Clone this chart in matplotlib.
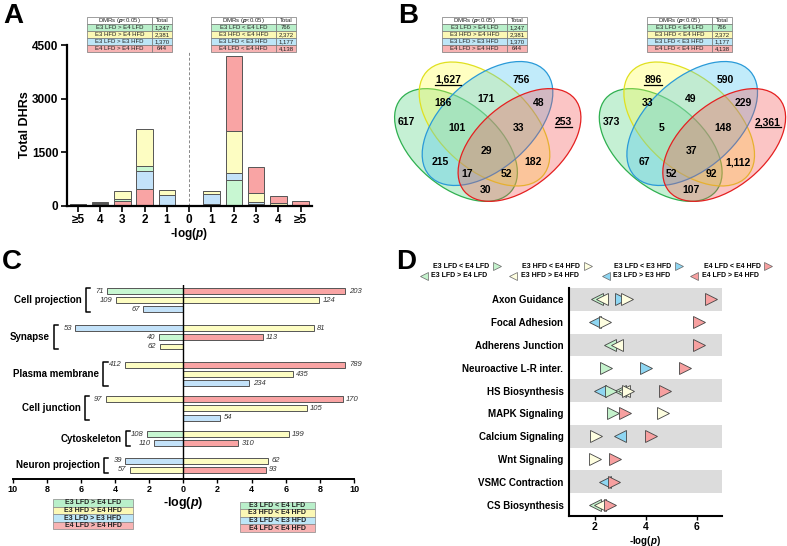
import numpy as np
import matplotlib
matplotlib.use("Agg")
import matplotlib.pyplot as plt
from matplotlib.patches import Ellipse, Rectangle

plt.rcParams['font.family'] = ['Liberation Sans', 'DejaVu Sans']
plt.rcParams['mathtext.fontset'] = 'custom'
plt.rcParams['mathtext.rm'] = 'Liberation Sans:bold'
plt.rcParams['mathtext.it'] = 'Liberation Sans:italic:bold'
plt.rcParams['mathtext.bf'] = 'Liberation Sans:bold'

W, H = 787, 546

GREEN = '#c8f7d2'
YELLOW = '#fdfdc2'
BLUE = '#c3e2f9'
RED = '#f9a4a4'
COLORS = {'g': GREEN, 'y': YELLOW, 'b': BLUE, 'r': RED}

# ---------------- data ----------------
# comparison names
comp_gt = ['E3 LFD > E4 LFD', 'E3 HFD > E4 HFD', 'E3 LFD > E3 HFD', 'E4 LFD > E4 HFD']
comp_lt = ['E3 LFD < E4 LFD', 'E3 HFD < E4 HFD', 'E3 LFD < E3 HFD', 'E4 LFD < E4 HFD']
total_gt = [1247, 2381, 1370, 644]
total_lt = [766, 2372, 1177, 4138]

# panel A: DHR counts per -log(p) bin (stacked)
a_left_bins = ['≥5', '4', '3', '2', '1']
a_left_red = [25, 55, 130, 470, 15]
a_left_blue = [0, 0, 0, 510, 280]
a_left_green = [10, 10, 55, 130, 15]
a_left_yellow = [10, 45, 235, 1040, 120]
a_right_bins = ['1', '2', '3', '4', '≥5']
a_right_green = [40, 720, 60, 0, 0]
a_right_blue = [290, 185, 40, 0, 0]
a_right_yellow = [80, 1185, 265, 75, 0]
a_right_red = [0, 2100, 725, 185, 120]

# panel B: venn region counts (green, yellow, blue, red membership)
venn_keys = ['1000', '0100', '0010', '0001', '1100', '0110', '0011', '1110',
             '0111', '1111', '1010', '0101', '1011', '1101', '1001']
venn_gt = [617, 1627, 756, 253, 186, 171, 48, 101, 33, 29, 215, 182, 17, 52, 30]
venn_lt = [373, 896, 590, 2361, 33, 49, 229, 5, 148, 37, 67, 1112, 52, 92, 107]
venn_underline = ['0100', '0001']

# panel C: GO terms, bars (-log p) and gene counts
c_terms = ['Cell projection', 'Synapse', 'Plasma membrane', 'Cell junction',
           'Cytoskeleton', 'Neuron projection']
c_left_term = [0, 0, 0, 1, 1, 1, 2, 3, 4, 4, 5, 5]
c_left_row = [0, 1, 2, 0, 1, 2, 0, 0, 0, 1, 0, 1]
c_left_set = ['g', 'y', 'b', 'b', 'g', 'y', 'y', 'y', 'g', 'b', 'b', 'y']
c_left_logp = [4.45, 3.95, 2.34, 6.33, 1.41, 1.39, 3.44, 4.53, 2.11, 1.70, 3.40, 3.14]
c_left_n = [71, 109, 67, 53, 40, 62, 412, 97, 108, 110, 39, 57]
c_right_term = [0, 0, 1, 1, 2, 2, 2, 3, 3, 3, 4, 4, 5, 5]
c_right_row = [0, 1, 0, 1, 0, 1, 2, 0, 1, 2, 0, 1, 0, 1]
c_right_set = ['r', 'y', 'y', 'r', 'r', 'y', 'b', 'r', 'y', 'b', 'y', 'r', 'y', 'r']
c_right_logp = [9.50, 7.97, 7.64, 4.65, 9.50, 6.40, 3.87, 9.34, 7.23, 2.17, 6.17, 3.22, 4.98, 4.82]
c_right_n = [203, 124, 81, 113, 789, 435, 234, 170, 105, 54, 199, 310, 62, 93]

# panel D: KEGG pathways, -log(p) per comparison (up = '<' comparison, down = '>')
d_paths = ['Axon Guidance', 'Focal Adhesion', 'Adherens Junction', 'Neuroactive L-R inter.',
           'HS Biosynthesis', 'MAPK Signaling', 'Calcium Signaling', 'Wnt Signaling',
           'VSMC Contraction', 'CS Biosynthesis']
nan = np.nan
d_green_dn = [2.10, nan, 2.60, nan, 3.00, nan, nan, nan, nan, 2.00]
d_yellow_dn = [2.30, nan, 2.90, nan, 3.15, nan, nan, nan, nan, 2.20]
d_blue_dn = [nan, 2.01, nan, nan, 2.20, nan, 3.00, nan, 2.40, nan]
d_green_up = [nan, nan, nan, 2.46, 2.65, 2.74, nan, nan, nan, nan]
d_blue_up = [3.03, nan, nan, 4.00, nan, nan, nan, nan, nan, nan]
d_yellow_up = [3.27, 2.40, nan, nan, 3.30, 4.67, 2.05, 2.03, nan, nan]
d_red_up = [6.55, 6.10, 6.10, 5.55, 4.75, 3.20, 4.20, 2.80, 2.75, 2.60]

# ---------------- figure ----------------
fig = plt.figure(figsize=(W / 100, H / 100), dpi=100)


def pix_axes(x0, y0, x1, y1):
    return fig.add_axes([x0 / W, 1 - y1 / H, (x1 - x0) / W, (y1 - y0) / H])


# ---- panel A ----
axA = pix_axes(66.7, 45, 311.7, 205.7)
xl = np.arange(len(a_left_bins))
xr = np.arange(len(a_right_bins)) + len(a_left_bins) + 1
bw = 0.74
bottom = np.zeros(len(xl))
for vals, c in [(a_left_red, RED), (a_left_blue, BLUE), (a_left_green, GREEN), (a_left_yellow, YELLOW)]:
    axA.bar(xl, vals, bw, bottom=bottom, color=c, edgecolor='#555555', linewidth=0.7)
    bottom += np.array(vals)
bottom = np.zeros(len(xr))
for vals, c in [(a_right_green, GREEN), (a_right_blue, BLUE), (a_right_yellow, YELLOW), (a_right_red, RED)]:
    axA.bar(xr, vals, bw, bottom=bottom, color=c, edgecolor='#555555', linewidth=0.7)
    bottom += np.array(vals)
axA.plot([5, 5], [0, 4300], color='#888888', lw=0.7, ls=(0, (3, 2)))
axA.set_xlim(-0.5, 10.5)
axA.set_ylim(0, 4500)
axA.set_yticks([0, 1500, 3000, 4500])
axA.set_xticks(list(xl) + [5] + list(xr))
axA.set_xticklabels(a_left_bins + ['0'] + a_right_bins)
for s in ['top', 'right']:
    axA.spines[s].set_visible(False)
for s in ['left', 'bottom']:
    axA.spines[s].set_linewidth(1.6)
axA.tick_params(width=1.2, length=4, labelsize=8.5, pad=2)
for t in axA.get_xticklabels() + axA.get_yticklabels():
    t.set_fontweight('bold')

# ---- panel C ----
axC = pix_axes(12.7, 284.6, 354, 479)
c_start = [0, 4.05, 8.05, 11.8, 15.6, 18.5]
for t, r, s, v, n in zip(c_left_term, c_left_row, c_left_set, c_left_logp, c_left_n):
    y = c_start[t] + r
    axC.barh(y, -v, 0.65, color=COLORS[s], edgecolor='#555555', linewidth=0.7)
    axC.text(-v - 0.2, y, str(n), ha='right', va='center', fontsize=5.5, style='italic', color='#333333')
for t, r, s, v, n in zip(c_right_term, c_right_row, c_right_set, c_right_logp, c_right_n):
    y = c_start[t] + r
    axC.barh(y, v, 0.65, color=COLORS[s], edgecolor='#555555', linewidth=0.7)
    axC.text(v + 0.2, y, str(n), ha='left', va='center', fontsize=5.5, style='italic', color='#333333')
for i, term in enumerate(c_terms):
    rows = [r for t, r in zip(c_left_term + c_right_term, c_left_row + c_right_row) if t == i]
    top, bot = c_start[i] - 0.3, c_start[i] + max(rows) + 0.3
    bx = -max(v for t, v in zip(c_left_term, c_left_logp) if t == i) - 1.25
    axC.plot([bx + 0.25, bx, bx, bx + 0.25], [top, top, bot, bot], color='black', lw=1.1, clip_on=False)
    axC.text(bx - 0.25, (top + bot) / 2, term, ha='right', va='center', fontsize=7, fontweight='bold')
axC.axvline(0, color='black', lw=1.0)
axC.set_xlim(-10, 10)
axC.set_ylim(20.5, -0.7)
axC.set_xticks(np.arange(-10, 11, 2))
axC.set_xticklabels([str(abs(v)) for v in range(-10, 11, 2)])
axC.set_yticks([])
for s in ['top', 'right', 'left']:
    axC.spines[s].set_visible(False)
axC.spines['bottom'].set_linewidth(1.4)
axC.tick_params(axis='x', width=1.0, length=3, labelsize=6.5, pad=1.5)
for t in axC.get_xticklabels():
    t.set_fontweight('bold')

# ---- panel D ----
axD = pix_axes(569, 288, 722, 516)
for i in range(0, len(d_paths), 2):
    axD.axhspan(i - 0.5, i + 0.5, color='#dcdcdc', lw=0, zorder=0)
ypos = np.arange(len(d_paths))
mk = dict(markersize=9, markeredgecolor='#444444', markeredgewidth=0.6, ls='none')
axD.plot(d_green_dn, ypos, marker='<', markerfacecolor='#c4f2cc', **mk)
axD.plot(d_yellow_dn, ypos, marker='<', markerfacecolor='#fefee0', **mk)
axD.plot(d_blue_dn, ypos, marker='<', markerfacecolor='#8ed6f2', **mk)
axD.plot(d_green_up, ypos, marker='>', markerfacecolor='#c4f2cc', **mk)
axD.plot(d_blue_up, ypos, marker='>', markerfacecolor='#8ed6f2', **mk)
axD.plot(d_yellow_up, ypos, marker='>', markerfacecolor='#fefee0', **mk)
axD.plot(d_red_up, ypos, marker='>', markerfacecolor='#f7a0a0', **mk)
axD.set_xlim(1, 7)
axD.set_ylim(9.5, -0.5)
axD.set_xticks([2, 4, 6])
axD.set_yticks(ypos)
axD.set_yticklabels(d_paths)
for s in ['top', 'right']:
    axD.spines[s].set_visible(False)
for s in ['left', 'bottom']:
    axD.spines[s].set_linewidth(1.5)
axD.tick_params(axis='y', length=0, labelsize=7, pad=4)
axD.tick_params(axis='x', width=1.0, length=3, labelsize=7.5, pad=1)
for t in axD.get_xticklabels() + axD.get_yticklabels():
    t.set_fontweight('bold')

# ---- overlay in pixel coordinates ----
ov = fig.add_axes([0, 0, 1, 1])
ov.set_xlim(0, W)
ov.set_ylim(H, 0)
ov.axis('off')
ov.patch.set_alpha(0)

for lab, (x, y) in zip('ABCD', [(13, 16), (408, 16), (12, 262), (406, 262)]):
    ov.text(x, y, lab, fontsize=20, fontweight='bold', ha='center', va='center')

ov.text(25, 125, 'Total DHRs', rotation=90, fontsize=9, fontweight='bold', ha='center', va='center')
ov.text(189, 234, r'-log($\it{p}$)', fontsize=8.5, fontweight='bold', ha='center', va='center')
ov.text(183, 503, r'-log($\it{p}$)', fontsize=9, fontweight='bold', ha='center', va='center')
ov.text(645, 540.5, r'-log($\it{p}$)', fontsize=7, fontweight='bold', ha='center', va='center')

row_cols = ['#b9efca', '#fbf8b5', '#bde6f7', '#f7b3b3']


def table(x0, y0, names, totals):
    c1, c2, rh = 65, 20, 7
    cells = [('white', r'DMRs ($\it{p}$<0.05)', 'Total')]
    cells += [(row_cols[i], names[i], f'{totals[i]:,}') for i in range(4)]
    for j, (col, a, b) in enumerate(cells):
        y = y0 + j * rh
        ov.add_patch(Rectangle((x0, y), c1, rh, facecolor=col, edgecolor='#777777', lw=0.5))
        ov.add_patch(Rectangle((x0 + c1, y), c2, rh, facecolor=col, edgecolor='#777777', lw=0.5))
        ov.text(x0 + c1 / 2, y + rh / 2 + 0.3, a, fontsize=4.3, ha='center', va='center', color='#222222')
        ov.text(x0 + c1 + c2 / 2, y + rh / 2 + 0.3, b, fontsize=4.3, ha='center', va='center', color='#222222')


table(87, 17, comp_gt, total_gt)
table(211, 17, comp_lt, total_lt)
table(442, 17, comp_gt, total_gt)
table(647, 17, comp_lt, total_lt)

# venn diagrams
venn_pos = {'0100': (448.3, 80), '0010': (520.7, 80), '1100': (443.3, 103.3), '0110': (486, 99),
            '0011': (538.3, 103.3), '1000': (406.7, 121.7), '1110': (457.3, 128.3),
            '0111': (518.3, 128.3), '0001': (563.3, 122.3), '1111': (486.7, 150.7),
            '1010': (440, 162.3), '0101': (533.3, 162.3), '1011': (466.7, 174),
            '1101': (506.7, 174), '1001': (486, 190)}
ell = [((456, 145), 144, 84, 40, '#4fd47f', '#2fb050'),
       ((484.5, 124), 156, 90, 42, '#ffff45', '#e0e020'),
       ((487.5, 123.5), 156, 90, -42, '#45c4f2', '#2a9ad8'),
       ((519.5, 145), 144, 84, -40, '#f45050', '#e52020')]
renderer = fig.canvas.get_renderer()
for dx, counts in [(0, venn_gt), (204.7, venn_lt)]:
    for (cx, cy), w, h, ang, fc, ec in ell:
        ov.add_patch(Ellipse((cx + dx, cy), w, h, angle=ang, facecolor=fc, alpha=0.33, lw=0))
        ov.add_patch(Ellipse((cx + dx, cy), w, h, angle=ang, facecolor='none', edgecolor=ec, lw=0.9))
    for k, n in zip(venn_keys, counts):
        x, y = venn_pos[k]
        t = ov.text(x + dx, y, f'{n:,}', fontsize=7.5, fontweight='bold', ha='center', va='center')
        if k in venn_underline:
            bb = t.get_window_extent(renderer).transformed(ov.transData.inverted())
            ov.plot([bb.x0, bb.x1], [y + 5, y + 5], color='black', lw=0.9)

# panel C legends
for x0, y0, names in [(53, 499, comp_gt), (239.5, 501.5, comp_lt)]:
    for i in range(4):
        ov.add_patch(Rectangle((x0, y0 + i * 7.5), 80 if x0 < 100 else 75.5, 7.5,
                               facecolor=row_cols[i], edgecolor='#888888', lw=0.5))
        ov.text(x0 + (40 if x0 < 100 else 37.75), y0 + i * 7.5 + 4, names[i], fontsize=5,
                fontweight='bold', ha='center', va='center', color='#222222')

# panel D legend
tri_cols = ['#c4f2cc', '#fefee0', '#8ed6f2', '#f7a0a0']
for i in range(4):
    xs = [461, 551, 642.5, 732][i]
    ov.text(xs, 266, comp_lt[i], fontsize=5, fontweight='bold', ha='center', va='center')
    ov.plot([[496.7, 588, 679.3, 768.3][i]], [266], marker='>', markersize=6,
            markerfacecolor=tri_cols[i], markeredgecolor='#666666', markeredgewidth=0.5)
    ov.plot([[424, 513.3, 606, 694][i]], [275.5], marker='<', markersize=6,
            markerfacecolor=tri_cols[i], markeredgecolor='#666666', markeredgewidth=0.5)
    ov.text([459.5, 550, 642, 730.5][i], 275.5, comp_gt[i], fontsize=5, fontweight='bold',
            ha='center', va='center')

fig.savefig('out.png', dpi=100)
